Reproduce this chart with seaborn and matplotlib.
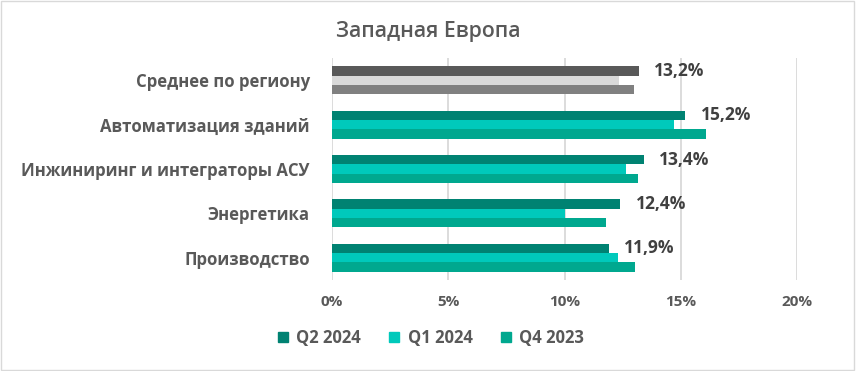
import matplotlib
matplotlib.use("Agg")
import matplotlib.pyplot as plt
import seaborn as sns
import pandas as pd
from matplotlib.patches import Rectangle

categories = ["Среднее по региону", "Автоматизация зданий",
              "Инжиниринг и интеграторы АСУ", "Энергетика", "Производство"]
periods = ["Q2 2024", "Q1 2024", "Q4 2023"]
q2_2024 = [13.2, 15.2, 13.4, 12.4, 11.9]
q1_2024 = [12.35, 14.7, 12.65, 10.0, 12.3]
q4_2023 = [13.0, 16.1, 13.15, 11.8, 13.05]
x_ticks = [0, 5, 10, 15, 20]
x_tick_labels = ["0%", "5%", "10%", "15%", "20%"]
title = "Западная Европа"

colors = {"Q2 2024": "#008272", "Q1 2024": "#00C9BB", "Q4 2023": "#00A88F"}
avg_colors = ["#595959", "#D9D9D9", "#808080"]

rows = []
for p, vals in zip(periods, [q2_2024, q1_2024, q4_2023]):
    for c, v in zip(categories, vals):
        rows.append({"category": c, "period": p, "value": v})
df = pd.DataFrame(rows)

sns.set_theme(style="white")
plt.rcParams["font.family"] = ["Open Sans", "DejaVu Sans"]

fig = plt.figure(figsize=(8.56, 3.71), dpi=100)
ax = fig.add_axes([332 / 856, 1 - 280 / 371, (797 - 332) / 856, (280 - 58) / 371])

sns.barplot(data=df, y="category", x="value", hue="period", order=categories,
            hue_order=periods, palette=colors, orient="h", width=0.63, gap=0,
            saturation=1, legend=False, ax=ax, errorbar=None)

# recolor the regional average group in grays
for cont, col in zip(ax.containers, avg_colors):
    cont.patches[0].set_facecolor(col)
    for pch in cont.patches:
        pch.set_edgecolor("none")

# data labels for Q2 2024
labels = [f"{v:.1f}%".replace(".", ",") for v in q2_2024]
ax.bar_label(ax.containers[0], labels=labels, padding=11, fontsize=12.5,
             fontweight="bold", color="#404040")

ax.set_xlim(0, 20)
ax.set_xticks(x_ticks)
ax.set_xticklabels(x_tick_labels, fontsize=11, color="#595959", fontweight="bold")
ax.tick_params(axis="x", length=0, pad=11)
ax.tick_params(axis="y", length=0, pad=16)
for lab in ax.get_yticklabels():
    lab.set_fontsize(12.1)
    lab.set_fontweight("bold")
    lab.set_color("#595959")
ax.set_xlabel("")
ax.set_ylabel("")
ax.grid(axis="x", color="#D9D9D9", linewidth=1.3)
ax.set_axisbelow(True)
for s in ax.spines.values():
    s.set_visible(False)

fig.text(428 / 856, 1 - 32 / 371, title, ha="center", va="center",
         fontsize=15.3, color="#595959", fontweight="semibold")

# legend
handles = [Rectangle((0, 0), 1, 1, color=colors[p]) for p in periods]
fig.legend(handles, periods, loc="center", bbox_to_anchor=(431 / 856, 1 - 338 / 371),
           ncol=3, frameon=False, handlelength=0.6, handleheight=0.6,
           columnspacing=1.7, handletextpad=0.5,
           prop={"size": 12, "weight": "bold"}, labelcolor="#595959")

fig.patches.append(Rectangle((0.001, 0.002), 0.997, 0.995, transform=fig.transFigure,
                             fill=False, edgecolor="#D9D9D9", linewidth=1))

fig.savefig("out.png", dpi=100, facecolor="white")
